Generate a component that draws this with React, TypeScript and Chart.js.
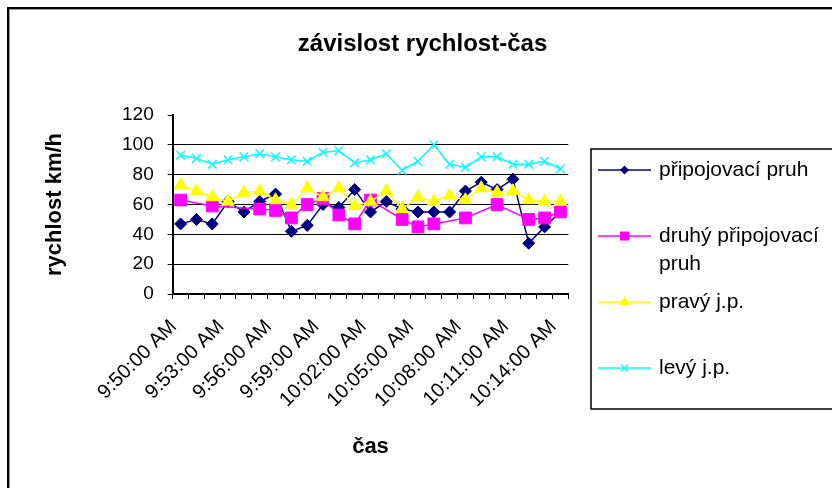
import React, { useEffect, useRef } from 'react';
import { Chart, registerables } from 'chart.js';

Chart.register(...registerables);

const categories = [
  '9:50:00 AM', '9:51:00 AM', '9:52:00 AM', '9:53:00 AM', '9:54:00 AM',
  '9:55:00 AM', '9:56:00 AM', '9:57:00 AM', '9:58:00 AM', '9:59:00 AM',
  '10:00:00 AM', '10:01:00 AM', '10:02:00 AM', '10:03:00 AM', '10:04:00 AM',
  '10:05:00 AM', '10:06:00 AM', '10:07:00 AM', '10:08:00 AM', '10:09:00 AM',
  '10:10:00 AM', '10:11:00 AM', '10:12:00 AM', '10:13:00 AM', '10:14:00 AM',
];

const pripojovaciPruh = [47, 50, 47, 62, 55, 62, 67, 42, 46, 60, 58, 70, 55, 62, 57, 55, 55, 55, 69, 75, 70, 77, 34, 45, 55];
const druhyPripojovaciPruh = [63, null, 59, null, null, 57, 56, 51, 60, 64, 53, 47, 63, null, 50, 45, 47, null, 51, null, 60, null, 50, 51, 55];
const pravyJP = [73, 69, 65, 62, 68, 69, 63, 60, 71, 65, 71, 59, 62, 69, 57, 65, 62, 66, 63, 71, 68, 69, 63, 62, 62];
const levyJP = [93, 91, 87, 90, 92, 94, 92, 90, 89, 95, 96, 88, 90, 94, 83, 89, 100, 87, 85, 92, 92, 87, 87, 89, 84];

const seriesNames = ['připojovací pruh', 'druhý připojovací pruh', 'pravý j.p.', 'levý j.p.'];
const seriesColors = ['#000080', '#FF00FF', '#FFFF00', '#00FFFF'];
const seriesMarkers = ['rectRot', 'rect', 'triangle', 'crossRot'];

const chartTitle = 'závislost rychlost-čas';
const yAxisTitle = 'rychlost km/h';
const xAxisTitle = 'čas';
const yMin = 0;
const yMax = 120;
const yStep = 20;
const labelEvery = 3;

const FONT = "'Liberation Sans', Arial, sans-serif";

function drawLegendMarker(ctx: CanvasRenderingContext2D, style: string, x: number, y: number, color: string) {
  ctx.save();
  ctx.fillStyle = color;
  ctx.strokeStyle = color;
  ctx.lineWidth = 1.2;
  ctx.beginPath();
  if (style === 'rectRot') {
    const r = 4.5;
    ctx.moveTo(x, y - r);
    ctx.lineTo(x + r, y);
    ctx.lineTo(x, y + r);
    ctx.lineTo(x - r, y);
    ctx.closePath();
    ctx.fill();
  } else if (style === 'rect') {
    const r = 4.5;
    ctx.rect(x - r, y - r, 2 * r, 2 * r);
    ctx.fill();
  } else if (style === 'triangle') {
    const r = 6;
    ctx.moveTo(x, y - r);
    ctx.lineTo(x + r * 0.866, y + r / 2);
    ctx.lineTo(x - r * 0.866, y + r / 2);
    ctx.closePath();
    ctx.fill();
  } else {
    const r = 3.5;
    ctx.moveTo(x - r, y - r);
    ctx.lineTo(x + r, y + r);
    ctx.moveTo(x + r, y - r);
    ctx.lineTo(x - r, y + r);
    ctx.stroke();
  }
  ctx.restore();
}

const framePlugin = {
  id: 'excelFrame',
  beforeDraw(chart: any) {
    const ctx = chart.ctx as CanvasRenderingContext2D;
    ctx.save();
    ctx.fillStyle = '#ffffff';
    ctx.fillRect(0, 0, chart.width, chart.height);
    ctx.fillStyle = '#000000';
    ctx.fillRect(7, 7, chart.width - 7, 2);
    ctx.fillRect(7, 7, 2, chart.height - 7);
    ctx.fillStyle = '#9a9a9a';
    ctx.fillRect(9, 9, chart.width - 9, 1);
    ctx.fillRect(9, 9, 1, chart.height - 9);
    ctx.restore();
  },
};

const legendPlugin = {
  id: 'excelLegend',
  afterDraw(chart: any) {
    const ctx = chart.ctx as CanvasRenderingContext2D;
    const area = chart.chartArea;
    const boxL = area.right + 22.7;
    const boxT = 149;
    const boxB = 409;
    const boxR = chart.width + 3;
    ctx.save();
    ctx.strokeStyle = '#000';
    ctx.lineWidth = 1.5;
    ctx.strokeRect(boxL, boxT, boxR - boxL, boxB - boxT);
    ctx.font = `21px ${FONT}`;
    ctx.textBaseline = 'middle';
    ctx.textAlign = 'left';
    const textX = boxL + 68;
    const maxW = chart.width - textX - 2;
    chart.data.datasets.forEach((ds: any, i: number) => {
      const y = boxT + 21 + i * 66;
      ctx.strokeStyle = ds.borderColor;
      ctx.lineWidth = 1.5;
      ctx.beginPath();
      ctx.moveTo(boxL + 7, y);
      ctx.lineTo(boxL + 60, y);
      ctx.stroke();
      drawLegendMarker(ctx, ds.pointStyle, boxL + 33.5, y, ds.borderColor);
      const words = String(ds.label).split(' ');
      const lines: string[] = [];
      let cur = '';
      words.forEach((w) => {
        const test = cur ? cur + ' ' + w : w;
        if (ctx.measureText(test).width > maxW && cur) {
          lines.push(cur);
          cur = w;
        } else {
          cur = test;
        }
      });
      if (cur) lines.push(cur);
      ctx.fillStyle = '#000';
      lines.forEach((ln, k) => ctx.fillText(ln, textX, y + k * 28));
    });
    ctx.restore();
  },
};

export default function App() {
  const ref = useRef<HTMLCanvasElement>(null);

  useEffect(() => {
    const seriesData = [pripojovaciPruh, druhyPripojovaciPruh, pravyJP, levyJP];
    const radii = [6, 8.3, 7.3, 6];
    const chart = new Chart(ref.current as HTMLCanvasElement, {
      type: 'line',
      data: {
        labels: categories,
        datasets: seriesData.map((d, i) => ({
          label: seriesNames[i],
          data: d,
          borderColor: seriesColors[i],
          backgroundColor: seriesColors[i],
          pointBackgroundColor: seriesColors[i],
          pointBorderColor: seriesColors[i],
          pointStyle: seriesMarkers[i] as any,
          pointRadius: radii[i],
          pointBorderWidth: i === 3 ? 1.5 : 1,
          borderWidth: 1.5,
          spanGaps: true,
          tension: 0,
          fill: false,
          order: 3 - i,
        })),
      },
      options: {
        responsive: false,
        animation: false,
        devicePixelRatio: 1,
        events: [],
        layout: { padding: { left: 13, right: 0, top: 0, bottom: 0 } },
        plugins: {
          legend: { display: false },
          tooltip: { enabled: false },
          title: {
            display: true,
            text: chartTitle,
            color: '#000',
            font: { family: FONT, size: 24, weight: 'bold' },
            padding: { top: 30, bottom: 56.2 },
          },
        },
        scales: {
          x: {
            type: 'category',
            offset: true,
            grid: {
              offset: true,
              drawOnChartArea: false,
              drawTicks: true,
              tickLength: 5,
              color: '#000',
              tickColor: '#000',
              lineWidth: 1,
            },
            border: { color: '#000', width: 2 },
            ticks: {
              autoSkip: false,
              minRotation: 45,
              maxRotation: 45,
              padding: 16,
              labelOffset: -7,
              color: '#000',
              font: { family: FONT, size: 20 },
              callback: (_v: any, i: number) => (i % labelEvery === 0 ? categories[i] : ''),
            },
            title: {
              display: true,
              text: xAxisTitle,
              color: '#000',
              font: { family: FONT, size: 22, weight: 'bold' },
              padding: { top: 0, bottom: 27.8 },
            },
            afterFit: (s: any) => {
              s.height = 194;
            },
          },
          y: {
            min: yMin,
            max: yMax,
            ticks: {
              stepSize: yStep,
              padding: 14,
              color: '#000',
              font: { family: FONT, size: 19 },
            },
            grid: {
              color: (c: any) => (c.tick && (c.tick.value === yMin || c.tick.value === yMax) ? 'rgba(0,0,0,0)' : '#000'),
              tickColor: '#000',
              tickLength: 5,
              lineWidth: 1,
            },
            border: { color: '#000', width: 2 },
            title: {
              display: true,
              text: yAxisTitle,
              color: '#000',
              font: { family: FONT, size: 22, weight: 'bold' },
              padding: { top: 28.8, bottom: 0 },
            },
            afterFit: (s: any) => {
              s.width = 159.7;
            },
          },
          legendSpace: {
            type: 'linear',
            position: 'right',
            display: true,
            grid: { display: false },
            ticks: { display: false },
            border: { display: false },
            afterFit: (s: any) => {
              s.width = 263.7;
            },
          },
        },
      } as any,
      plugins: [framePlugin, legendPlugin],
    });
    return () => chart.destroy();
  }, []);

  return (
    <div style={{ position: 'absolute', left: 0, top: 0, width: 832, height: 488, background: '#fff' }}>
      <canvas ref={ref} width={832} height={488} style={{ display: 'block', width: 832, height: 488 }} />
    </div>
  );
}
